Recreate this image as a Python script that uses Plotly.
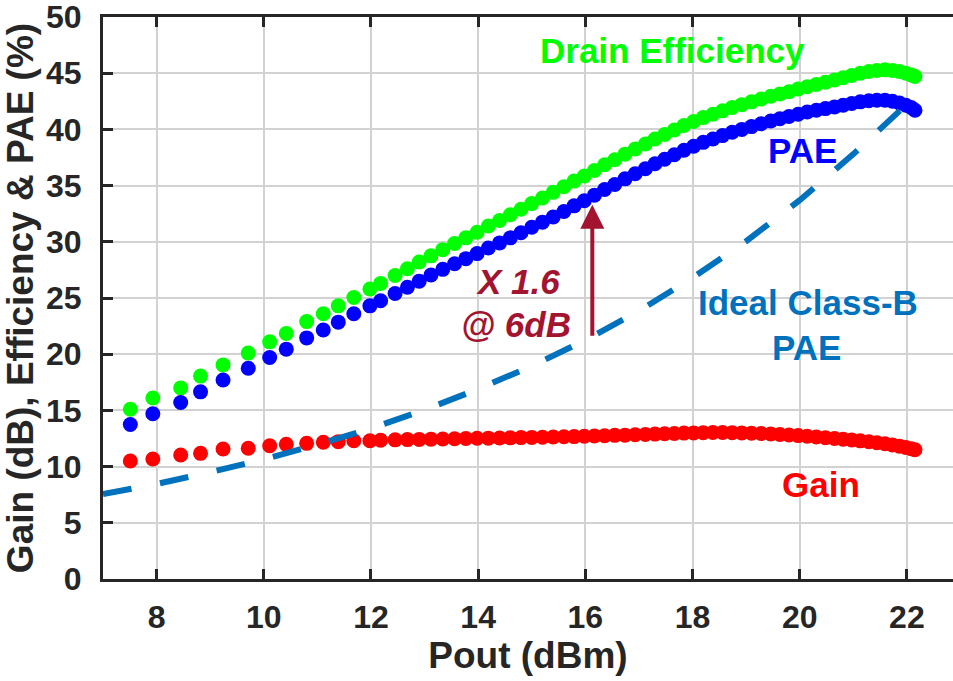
import plotly.graph_objects as go

# ---------------- data ----------------
pout = [7.51, 7.93, 8.45, 8.82, 9.24, 9.71, 10.11, 10.42, 10.8, 11.11, 11.39, 11.68, 11.98,
        12.18, 12.45, 12.68, 12.9, 13.12, 13.34, 13.56, 13.77, 13.98, 14.19, 14.4, 14.6,
        14.8, 15.0, 15.2, 15.4, 15.6, 15.79, 15.98, 16.17, 16.36, 16.55, 16.74, 16.93,
        17.12, 17.3, 17.48, 17.66, 17.84, 18.02, 18.2, 18.38, 18.56, 18.74, 18.92, 19.1,
        19.28, 19.46, 19.63, 19.8, 19.97, 20.14, 20.31, 20.48, 20.65, 20.81, 20.97, 21.13,
        21.29, 21.44, 21.59, 21.73, 21.86, 21.98, 22.08, 22.15]

drain_eff = [15.1, 16.1, 17.0, 18.05, 19.05, 20.1, 21.1, 21.85, 22.9, 23.6, 24.3, 25.05, 25.8,
             26.3, 27.0, 27.6, 28.2, 28.75, 29.3, 29.85, 30.35, 30.85, 31.4, 31.9, 32.4,
             32.9, 33.4, 33.9, 34.4, 34.9, 35.4, 35.85, 36.35, 36.85, 37.3, 37.8, 38.25,
             38.7, 39.15, 39.55, 39.95, 40.35, 40.7, 41.05, 41.35, 41.65, 41.95, 42.2, 42.45,
             42.7, 42.95, 43.15, 43.35, 43.6, 43.8, 44.0, 44.2, 44.4, 44.6, 44.8, 45.0,
             45.15, 45.25, 45.3, 45.25, 45.15, 45.0, 44.85, 44.7]

pae = [13.75, 14.7, 15.7, 16.65, 17.7, 18.75, 19.7, 20.45, 21.45, 22.15, 22.85, 23.6, 24.3,
       24.75, 25.4, 25.95, 26.5, 27.05, 27.55, 28.05, 28.5, 28.95, 29.45, 29.9, 30.35,
       30.8, 31.3, 31.75, 32.2, 32.7, 33.2, 33.65, 34.15, 34.65, 35.1, 35.6, 36.05,
       36.5, 36.95, 37.35, 37.75, 38.15, 38.5, 38.85, 39.15, 39.45, 39.75, 40.0, 40.25,
       40.5, 40.75, 40.95, 41.15, 41.35, 41.55, 41.7, 41.85, 42.0, 42.15, 42.3, 42.45,
       42.55, 42.6, 42.6, 42.5, 42.35, 42.15, 41.95, 41.7]

gain = [10.5, 10.68, 11.03, 11.18, 11.57, 11.63, 11.86, 11.98, 12.07, 12.16, 12.22, 12.3, 12.3,
        12.35, 12.38, 12.4, 12.42, 12.44, 12.46, 12.48, 12.5, 12.52, 12.53, 12.55, 12.56,
        12.58, 12.6, 12.61, 12.63, 12.65, 12.67, 12.7, 12.72, 12.75, 12.78, 12.8, 12.83,
        12.86, 12.89, 12.92, 12.95, 12.98, 13.0, 13.02, 13.03, 13.03, 13.02, 13.0, 12.97,
        12.94, 12.9, 12.86, 12.81, 12.76, 12.7, 12.64, 12.57, 12.5, 12.43, 12.36, 12.29,
        12.21, 12.12, 12.03, 11.93, 11.82, 11.7, 11.59, 11.5]

ideal_x = [7, 8, 9, 10, 11, 12, 13, 14, 15, 16, 17, 18, 19, 20, 21, 22, 22.1]
ideal_pae = [7.55, 8.45, 9.5, 10.65, 11.95, 13.4, 15.05, 16.9, 18.95, 21.25, 23.85, 26.8,
             30.05, 33.7, 37.8, 42.4, 42.7]

x_ticks = [8, 10, 12, 14, 16, 18, 20, 22]
y_ticks = [0, 5, 10, 15, 20, 25, 30, 35, 40, 45, 50]

# ---------------- styling ----------------
FONT = "Liberation Sans"
AX = "#262626"
GRID = "#d2d2d2"
MS = 15

fig = go.Figure()
fig.add_trace(go.Scatter(x=pout, y=gain, mode="markers", name="Gain",
                         marker=dict(color="#FF0000", size=MS, line=dict(width=0))))
fig.add_trace(go.Scatter(x=pout, y=drain_eff, mode="markers", name="Drain Efficiency",
                         marker=dict(color="#00FF00", size=MS, line=dict(width=0))))
fig.add_trace(go.Scatter(x=pout, y=pae, mode="markers", name="PAE",
                         marker=dict(color="#0000FF", size=MS, line=dict(width=0))))
fig.add_trace(go.Scatter(x=ideal_x, y=ideal_pae, mode="lines", name="Ideal Class-B PAE",
                         line=dict(color="#0072BD", width=6, dash="29px,29px")))

def label(text, x, y, color, italic=False):
    t = f"<i>{text}</i>" if italic else text
    fig.add_annotation(x=x, y=y, xref="x", yref="y", text=f"<b>{t}</b>", showarrow=False,
                       xanchor="center", yanchor="middle",
                       font=dict(family=FONT, size=35, color=color))

label("Drain Efficiency", 17.63, 47.0, "#00FF00")
label("PAE", 20.05, 38.1, "#0000FF")
label("Ideal Class-B", 20.15, 24.6, "#0072BD")
label("PAE", 20.13, 20.6, "#0072BD")
label("X 1.6", 14.74, 26.5, "#A2142F", italic=True)
label("@ 6dB", 14.7, 22.6, "#A2142F", italic=True)
label("Gain", 20.39, 8.4, "#FF0000")

fig.add_annotation(x=16.13, y=33.3, ax=16.13, ay=21.5, xref="x", yref="y",
                   axref="x", ayref="y", text="", showarrow=True,
                   arrowhead=2, arrowsize=1.2, arrowwidth=4, arrowcolor="#A2142F",
                   standoff=0, startstandoff=0)

fig.update_layout(
    width=953, height=681,
    margin=dict(l=103, r=0, t=17, b=102),
    paper_bgcolor="white", plot_bgcolor="white",
    showlegend=False,
    font=dict(family=FONT, color=AX),
)
fig.update_xaxes(
    range=[7, 22.86], tickvals=x_ticks, ticktext=[str(v) for v in x_ticks],
    showgrid=True, gridcolor=GRID, gridwidth=2,
    showline=True, linecolor=AX, linewidth=3, mirror="ticks",
    ticks="inside", ticklen=10, tickwidth=3, tickcolor=AX,
    tickfont=dict(family=FONT, size=32, color=AX, weight="bold"),
    ticklabelstandoff=8, ticklabeloverflow="allow",
    title=dict(text="<b>Pout (dBm)</b>", font=dict(family=FONT, size=37, color=AX), standoff=6),
    zeroline=False,
)
fig.update_yaxes(
    range=[0, 50], tickvals=y_ticks, ticktext=[str(v) for v in y_ticks],
    showgrid=True, gridcolor=GRID, gridwidth=2,
    showline=True, linecolor=AX, linewidth=3,
    ticks="inside", ticklen=10, tickwidth=3, tickcolor=AX,
    tickfont=dict(family=FONT, size=32, color=AX, weight="bold"),
    ticklabelstandoff=12, ticklabeloverflow="allow",
    title=dict(text="<b>Gain (dB), Efficiency &amp; PAE (%)</b>",
               font=dict(family=FONT, size=37, color=AX), standoff=6),
    zeroline=False,
)

fig.write_html("out.html")
